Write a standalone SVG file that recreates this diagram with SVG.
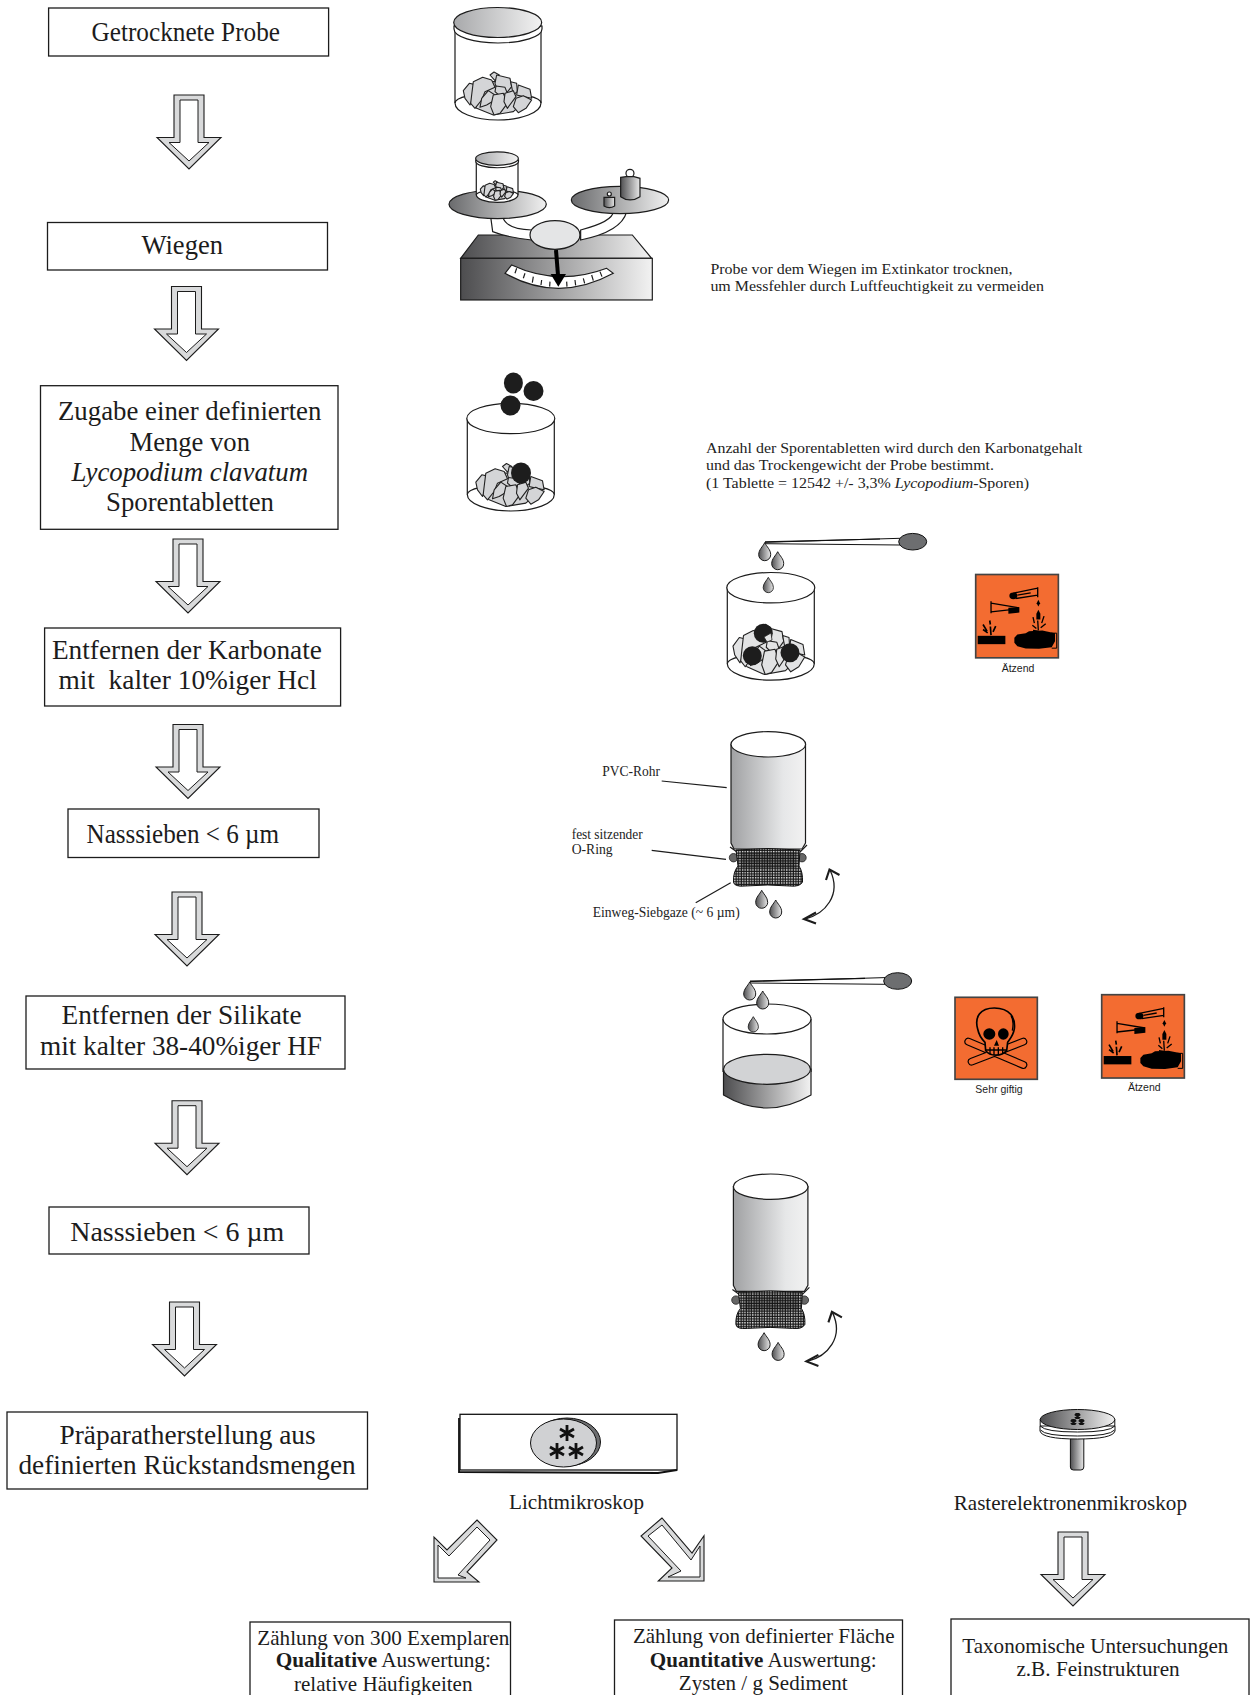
<svg xmlns="http://www.w3.org/2000/svg" width="1250" height="1695" viewBox="0 0 1250 1695">
<style>
text{font-family:"Liberation Serif","Times New Roman",serif;fill:#1c1c1c}
.box{fill:#fff;stroke:#1c1c1c;stroke-width:1.3}
.t{font-size:27.5px}
.t2{font-size:21.8px}
.n{font-size:15.400px;fill:#222}
.h{font-family:"Liberation Sans",Arial,sans-serif;font-size:10.500px}
.ln{fill:none;stroke:#1c1c1c;stroke-width:1.2;vector-effect:non-scaling-stroke}
.oa{fill:#d9dadb;stroke:#1c1c1c;stroke-width:1.1}
.ia{fill:#fff;stroke:#1c1c1c;stroke-width:1}
.rk polygon{stroke:#222;stroke-width:1.100;stroke-linejoin:round;vector-effect:non-scaling-stroke}
.s3{stroke:#1c1c1c;stroke-width:3.6}
.k{stroke:#000;stroke-width:4;fill:none}
</style>
<defs>
<linearGradient id="g1"><stop offset="0" stop-color="#4d4d4f"/><stop offset="1" stop-color="#f2f2f2"/></linearGradient>
<linearGradient id="g2"><stop offset="0" stop-color="#a8a9ab"/><stop offset="1" stop-color="#f2f2f2"/></linearGradient>
<linearGradient id="g6"><stop offset="0" stop-color="#6a6b6d"/><stop offset="1" stop-color="#f0f0f0"/></linearGradient>
<linearGradient id="g3"><stop offset="0" stop-color="#a0a1a3"/><stop offset=".7" stop-color="#e6e7e8"/><stop offset="1" stop-color="#f2f2f2"/></linearGradient>
<linearGradient id="g4"><stop offset="0" stop-color="#505052"/><stop offset="1" stop-color="#e8e8e8"/></linearGradient>
<pattern id="mesh" patternUnits="userSpaceOnUse" width="2.600" height="2.600"><rect width="2.600" height="2.600" fill="#141414"/><rect x=".9" y=".9" width="1.400" height="1.400" fill="#e8e8e8"/></pattern>
<g id="arrow"><polygon class="oa" points="-15,0 15,0 15,42.5 32,42.5 0,74 -32,42.5 -15,42.5"/><polygon class="ia" points="-9,5 9,5 9,47.5 20,47.5 0,66 -20,47.5 -9,47.5"/></g>
<g id="rocks" class="rk">
<polygon points="150,300 200,245 270,245 320,300 280,335 220,345 170,325"/>
<polygon points="130,272 148,250 165,254 160,290 150,315 135,295"/>
<polygon points="210,225 222,216 238,225 225,242"/>
<polygon points="160,245 188,232 215,240 225,262 195,275 185,300 165,325 152,310 155,285"/>
<polygon points="230,225 270,235 275,260 255,285 232,270 225,250"/>
<polygon points="272,245 290,250 292,275 280,285"/>
<polygon points="295,255 330,268 335,295 310,290 290,285"/>
<polygon points="228,258 255,262 262,280 240,288 225,275"/>
<polygon points="185,295 205,272 225,285 225,300 200,315 180,322"/>
<polygon points="220,285 250,280 262,310 240,340 222,345 212,320"/>
<polygon points="255,280 280,272 288,290 262,325 252,305"/>
<polygon points="288,295 310,287 335,300 318,325 295,338 280,320"/>
</g>
<g id="jar">
<path class="ln" style="fill:#fff" d="M455 26V103A43 17 0 0 0 541 103V26Z"/>
<path class="ln" d="M455 103A43 10 0 0 1 541 103"/>
<use href="#rocks" transform="translate(420 0) scale(.3333)" fill="#d4d5d7"/>
<path class="ln" style="fill:#fff" d="M454 26V29A44 14 0 0 0 542 29V26Z"/>
<ellipse cx="497.7" cy="22.5" rx="44" ry="15" fill="url(#g2)" stroke="#1c1c1c" stroke-width="1.2" vector-effect="non-scaling-stroke"/>
</g>
<g id="openjar">
<path class="ln" style="fill:#fff" d="M-43.5 15V91A43.5 16.5 0 0 0 43.500 91V15Z"/>
<path class="ln" d="M-43.5 91A43.5 10 0 0 1 43.500 91"/>
<ellipse cx="0" cy="15" rx="44" ry="15.200" fill="#fff" stroke="#1c1c1c" stroke-width="1.200"/>
</g>
<path id="drop" d="M0-9C2-5 6-2 6 3A6 6 0 0 1-6 3C-6-2-2-5 0-9Z" fill="url(#g4)" stroke="#1c1c1c" stroke-width="1"/>
<g id="pipette">
<polygon points="765,542.300 900,538.300 900,545 765,543.700" fill="#fff" stroke="#111" stroke-width="1"/>
<path d="M765 541.800L880 539" stroke="#111" stroke-width="1.200"/>
<ellipse cx="912.700" cy="541.700" rx="14" ry="8.300" fill="#6d6e70" stroke="#111" stroke-width="1"/>
<use href="#drop" x="764.700" y="551.700"/>
<use href="#drop" x="777.700" y="560.700"/>
<use href="#drop" transform="translate(768.300 585) scale(.85)"/>
</g>
<g id="tube">
<path d="M731 744.300V843L734 849H802L805.500 843V744.300Z" fill="url(#g3)" stroke="#1c1c1c" stroke-width="1.200"/>
<ellipse cx="768.300" cy="744.300" rx="37.300" ry="12.700" fill="#fff" stroke="#1c1c1c" stroke-width="1.200"/>
<path d="M730 847L737 852M807 845L800 852" class="ln"/>
<circle cx="733.500" cy="857.700" r="4.200" fill="#666" stroke="#222" stroke-width=".8"/>
<circle cx="802" cy="857.700" r="4.200" fill="#666" stroke="#222" stroke-width=".8"/>
<path d="M736 850Q768 847 800 850L799 866Q803 872 802.500 882Q800 887 790 886Q768 884 745 886Q734 887 733.500 882Q733 872 738 866Z" fill="url(#mesh)" stroke="#111" stroke-width="1"/>
<path d="M742 852H796V868H742Z" fill="#111" fill-opacity=".35"/>
<use href="#drop" x="761.700" y="899.300"/>
<use href="#drop" x="775.700" y="909"/>
<path d="M805 919C825 914 842 895 830 870" class="ln" style="stroke-width:1.300"/>
<path d="M816 912.500L804 919L816 923.500M826 880L829.500 869.500L839.500 875" class="ln" style="stroke-width:2.100"/>
</g>
<g id="corrosive">
<rect width="248" height="250" fill="#f36c31" stroke="#444" stroke-width="5"/>
<ellipse cx="113" cy="64" rx="12" ry="10"/>
<path class="k" d="M113 56L186 41M120 72L186 62M186 38V68M125 62L165 55"/>
<path class="k" d="M46 80V116M46 86L130 100M46 112L100 106"/>
<polygon points="98,100 131,98 131,114 98,118"/>
<polygon points="188,76 193,86 188,96 183,86"/>
<polygon points="188,106 194,118 194,135 182,135 182,118"/>
<path class="k" d="M186 138L188 168M172 128L176 146M205 125L198 146M170 152L182 162M210 148L195 160M172 168L186 170"/>
<path class="k" style="stroke-width:5" d="M42 138L44 150M44 156L46 182M22 150L34 170M60 155L52 172M22 165L36 175"/>
<rect x="6" y="184" width="83" height="25"/>
<polygon points="116,190 125,180 150,176 160,170 200,168 238,176 238,200 228,218 190,223 150,222 125,215 116,205"/>
<path class="k" style="stroke-width:3" d="M226 176H243V221H228"/>
</g>
</defs>

<g id="connectors">
<use href="#arrow" x="189" y="95"/>
<use href="#arrow" x="186.500" y="286.500"/>
<use href="#arrow" x="188" y="539"/>
<use href="#arrow" x="188" y="724.500"/>
<use href="#arrow" x="187" y="892"/>
<use href="#arrow" x="187" y="1100.700"/>
<use href="#arrow" x="184.500" y="1302"/>
<use href="#arrow" x="1073" y="1532"/>
<g>
<polygon class="oa" points="477,1520 497,1540 467,1572 479,1582 434,1582 434,1537 447,1550"/>
<polygon class="ia" points="477,1527 490,1540 458,1575 466,1578 438,1578 438,1545 449,1556"/>
</g>
<g>
<polygon class="oa" points="662,1518 641,1536 672,1568 658.300,1581 704,1581 704,1535.700 692,1553"/>
<polygon class="ia" points="662,1525 648,1536 681,1571 668,1577 700,1577 700,1546 691,1560"/>
</g>
<path class="ln" d="M661.700 781L726.700 787.700M651.700 850.300L726 859.300M695.700 902.700L730.700 882.700"/>
</g>

<g id="n1"><rect class="box" x="48.600" y="8" width="280" height="48"/><text class="t" x="91.500" y="41" textLength="188.500" lengthAdjust="spacingAndGlyphs">Getrocknete Probe</text></g>
<g id="n2"><rect class="box" x="47.500" y="222.500" width="280" height="47.500"/><text class="t" x="141.500" y="254.300" textLength="81.500" lengthAdjust="spacingAndGlyphs">Wiegen</text></g>
<g id="n3"><rect class="box" x="40.500" y="385.700" width="297.500" height="143.600"/>
<text class="t" x="58" y="419.600" textLength="263.400" lengthAdjust="spacingAndGlyphs">Zugabe einer definierten</text>
<text class="t" x="129.500" y="450.700" textLength="120.500" lengthAdjust="spacingAndGlyphs">Menge von</text>
<text class="t" x="71.400" y="481" textLength="236.600" lengthAdjust="spacingAndGlyphs" font-style="italic">Lycopodium clavatum</text>
<text class="t" x="106" y="510.700" textLength="168" lengthAdjust="spacingAndGlyphs">Sporentabletten</text></g>
<g id="n4"><rect class="box" x="44.600" y="628" width="296" height="78"/>
<text class="t" x="51.900" y="659" textLength="270" lengthAdjust="spacingAndGlyphs">Entfernen der Karbonate</text>
<text class="t" x="58.400" y="689.300" textLength="258.400" lengthAdjust="spacingAndGlyphs" xml:space="preserve">mit  kalter 10%iger Hcl</text></g>
<g id="n5"><rect class="box" x="68" y="809" width="251" height="48.500"/><text class="t" x="86.500" y="843" textLength="192.500" lengthAdjust="spacingAndGlyphs">Nasssieben &lt; 6 µm</text></g>
<g id="n6"><rect class="box" x="26" y="996" width="319" height="73"/>
<text class="t" x="61.600" y="1024" textLength="240" lengthAdjust="spacingAndGlyphs">Entfernen der Silikate</text>
<text class="t" x="40" y="1055.300" textLength="282" lengthAdjust="spacingAndGlyphs">mit kalter 38-40%iger HF</text></g>
<g id="n7"><rect class="box" x="49" y="1207" width="260" height="47"/><text class="t" x="70.300" y="1241.300" textLength="214" lengthAdjust="spacingAndGlyphs">Nasssieben &lt; 6 µm</text></g>
<g id="n8"><rect class="box" x="7" y="1412" width="360.500" height="77"/>
<text class="t" x="59.500" y="1444" textLength="256.200" lengthAdjust="spacingAndGlyphs">Präparatherstellung aus</text>
<text class="t" x="18.400" y="1474.300" textLength="337.300" lengthAdjust="spacingAndGlyphs">definierten Rückstandsmengen</text></g>
<g id="n9"><rect class="box" x="250" y="1622" width="260.500" height="80"/>
<text class="t2" x="257.300" y="1644.600" textLength="252" lengthAdjust="spacingAndGlyphs">Zählung von 300 Exemplaren</text>
<text class="t2" x="275.700" y="1667.400" textLength="215.200" lengthAdjust="spacingAndGlyphs"><tspan font-weight="bold">Qualitative</tspan> Auswertung:</text>
<text class="t2" x="294" y="1691" textLength="178.500" lengthAdjust="spacingAndGlyphs">relative Häufigkeiten</text></g>
<g id="n10"><rect class="box" x="614.500" y="1620" width="288" height="82"/>
<text class="t2" x="632.900" y="1643.300" textLength="261.600" lengthAdjust="spacingAndGlyphs">Zählung von definierter Fläche</text>
<text class="t2" x="649.800" y="1666.700" textLength="226.800" lengthAdjust="spacingAndGlyphs"><tspan font-weight="bold">Quantitative</tspan> Auswertung:</text>
<text class="t2" x="678.800" y="1690" textLength="168.800" lengthAdjust="spacingAndGlyphs">Zysten / g Sediment</text></g>
<g id="n11"><rect class="box" x="951" y="1619" width="298" height="83"/>
<text class="t2" x="962.300" y="1653.300" textLength="266.100" lengthAdjust="spacingAndGlyphs">Taxonomische Untersuchungen</text>
<text class="t2" x="1016.400" y="1676" textLength="163.300" lengthAdjust="spacingAndGlyphs">z.B. Feinstrukturen</text></g>

<g id="jar1"><use href="#jar"/></g>

<g id="balance" transform="translate(420 0) scale(.3333)">
<polygon points="175,705 637,705 695,775 122,775" fill="url(#g1)" class="s3"/>
<rect x="122" y="775" width="575" height="125" fill="url(#g1)" class="s3"/>
<path d="M255 820L275 795Q415 860 560 805L580 820Q415 910 255 820Z" fill="#fff" class="s3"/>
<path class="s3" fill="none" d="M290 805L285 820M315 820L310 835M340 830L337 848M365 840L363 855M390 845L389 860M440 845L441 860M465 840L467 856M490 835L494 850M515 825L520 842M540 815L546 830"/>
<path d="M212 650L218 695Q260 712 335 720L335 690Q258 688 248 650Z" fill="#fff" class="s3"/>
<path d="M580 635Q578 665 482 690L482 720Q605 695 620 635Z" fill="#fff" class="s3"/>
<ellipse cx="233" cy="613" rx="146" ry="43" fill="url(#g6)" class="s3"/>
<ellipse cx="600" cy="600" rx="146" ry="41" fill="url(#g6)" class="s3"/>
<circle cx="630" cy="520" r="12" fill="#fff" class="s3"/>
<path d="M602 532L618 530L642 530L660 535V590Q630 610 602 590Z" fill="url(#g4)" class="s3"/>
<circle cx="568" cy="582" r="6" fill="#fff" class="s3"/>
<path d="M552 592H584V618Q568 628 552 618Z" fill="url(#g4)" class="s3"/>
<ellipse cx="405" cy="705" rx="75" ry="43" fill="#e4e5e6" class="s3"/>
<path d="M408 750L414 825" stroke="#000" stroke-width="12"/>
<polygon points="392,822 438,822 415,860" fill="#000"/>
</g>
<g id="jar2"><use href="#jar" transform="translate(497 151.700) scale(.485 .45) translate(-497.700 -7.300)"/></g>

<g id="jar3">
<use href="#openjar" x="510.800" y="403.500"/>
<use href="#rocks" transform="translate(432.500 391.500) scale(.3333)" fill="#d4d5d7"/>
<ellipse cx="513.400" cy="383" rx="9.500" ry="10.500" fill="#1d1d1d"/>
<ellipse cx="533.500" cy="391" rx="10" ry="10" fill="#1d1d1d"/>
<ellipse cx="510.500" cy="405.500" rx="10" ry="10" fill="#1d1d1d"/>
<ellipse cx="521" cy="473" rx="10" ry="10.500" fill="#1d1d1d"/>
</g>

<g id="jar4">
<use href="#openjar" x="770.800" y="572.700"/>
<use href="#rocks" transform="translate(687.500 540) scale(.35 .39)" fill="#e2e3e4"/>
<circle cx="763.300" cy="633.300" r="9.500" fill="#1d1d1d"/>
<polygon points="764,637 771,633 772,640 767,642" fill="#e2e3e4" stroke="#222" stroke-width=".8"/>
<circle cx="752.300" cy="655.700" r="9.500" fill="#1d1d1d"/>
<circle cx="790" cy="652.700" r="9.500" fill="#1d1d1d"/>
<use href="#pipette"/>
</g>

<g id="sign1">
<use href="#corrosive" transform="translate(975.700 574.500) scale(.3333)"/>
<text class="h" x="1018" y="671.700" text-anchor="middle">Ätzend</text>
</g>

<g id="tube1"><use href="#tube"/></g>
<g id="tube2"><use href="#tube" x="2.400" y="442.400"/></g>

<g id="beaker">
<path class="ln" d="M723 1019V1072M811 1019V1072"/>
<ellipse cx="767" cy="1019" rx="44" ry="15" fill="#fff" stroke="#1c1c1c" stroke-width="1.200"/>
<path d="M723.500 1069V1095Q745 1108 767 1108Q789 1108 811 1095V1069Z" fill="url(#g1)" stroke="#1c1c1c" stroke-width="1.200"/>
<ellipse cx="767" cy="1069.300" rx="43.500" ry="15" fill="#d2d3d5" stroke="#1c1c1c" stroke-width="1.200"/>
<use href="#pipette" transform="translate(-15 439.300)"/>
</g>

<g id="sign2">
<g transform="translate(955 997.300) scale(.3333)">
<rect width="247" height="246" fill="#f36c31" stroke="#444" stroke-width="5"/>
<path d="M40 133L205 203M205 133L50 193" stroke="#000" stroke-width="24" stroke-linecap="round"/>
<path d="M40 133L205 203M205 133L50 193" stroke="#f36c31" stroke-width="17" stroke-linecap="round"/>
<path d="M68 95C58 60 75 32 118 32C165 32 182 62 178 95C175 115 165 125 158 135L155 160C140 178 105 178 92 160L90 135C80 125 72 115 68 95Z" fill="#f36c31" stroke="#000" stroke-width="5"/>
<ellipse cx="103" cy="110" rx="18" ry="17"/>
<ellipse cx="145" cy="110" rx="16" ry="17"/>
<polygon points="125,128 132,145 117,145"/>
<path class="k" d="M93 158H155M105 150V170M117 150V174M130 150V174M143 150V170M168 55Q178 70 172 100"/>
</g>
<text class="h" x="999" y="1092.700" text-anchor="middle">Sehr giftig</text>
</g>
<g id="sign3">
<use href="#corrosive" transform="translate(1101.700 994.700) scale(.3333)"/>
<text class="h" x="1144.300" y="1091" text-anchor="middle">Ätzend</text>
</g>

<g id="slide">
<rect x="460" y="1414.300" width="217" height="55.700" fill="#fff" stroke="#111" stroke-width="1.300"/>
<path d="M459 1418V1472L658 1473L677 1470" fill="none" stroke="#111" stroke-width="1.800"/>
<ellipse cx="567" cy="1442" rx="33.500" ry="24" fill="#6d6e70" stroke="#111"/>
<ellipse cx="563.500" cy="1443" rx="33" ry="24" fill="#d0d1d3" stroke="#111"/>
<path stroke="#111" stroke-width="2.800" d="M567 1425V1441M560 1429L574 1437M574 1429L560 1437M557 1443V1459M550 1447L564 1455M564 1447L550 1455M576 1443V1459M569 1447L583 1455M583 1447L569 1455"/>
</g>
<text id="lm" class="t2" x="509" y="1509.300" textLength="135" lengthAdjust="spacingAndGlyphs">Lichtmikroskop</text>

<g id="stub">
<rect x="1070.400" y="1436" width="13.400" height="34" rx="3" fill="url(#g4)" stroke="#111"/>
<path d="M1040 1426V1431Q1042 1439 1077.500 1439Q1113 1439 1115 1431V1426Z" fill="#fff" stroke="#111"/>
<path d="M1040.500 1430Q1045 1436 1077.500 1436Q1110 1436 1114.500 1430" fill="none" stroke="#111"/>
<ellipse cx="1077.500" cy="1419.500" rx="37.300" ry="10" fill="url(#g1)" stroke="#111"/>
<path d="M1040.200 1419.500V1426Q1045 1432 1077.500 1432Q1110 1432 1114.800 1426V1419.500" fill="none" stroke="#111"/>
<path stroke="#111" stroke-width="2.400" d="M1077.500 1413V1419M1075 1414L1080 1418M1080 1414L1075 1418M1073.500 1419V1425M1071 1420L1076 1424M1076 1420L1071 1424M1081.500 1419V1425M1079 1420L1084 1424M1084 1420L1079 1424"/>
</g>
<text id="rem" class="t2" x="953.700" y="1509.500" textLength="233.300" lengthAdjust="spacingAndGlyphs">Rasterelektronenmikroskop</text>

<g id="notes">
<text class="n" x="710.400" y="273.600" textLength="302" lengthAdjust="spacingAndGlyphs">Probe vor dem Wiegen im Extinkator trocknen,</text>
<text class="n" x="710.400" y="290.900" textLength="333.500" lengthAdjust="spacingAndGlyphs">um Messfehler durch Luftfeuchtigkeit zu vermeiden</text>
<text class="n" x="706" y="453" textLength="376.500" lengthAdjust="spacingAndGlyphs">Anzahl der Sporentabletten wird durch den Karbonatgehalt</text>
<text class="n" x="706" y="470.400" textLength="288" lengthAdjust="spacingAndGlyphs">und das Trockengewicht der Probe bestimmt.</text>
<text class="n" x="706" y="487.700" textLength="323" lengthAdjust="spacingAndGlyphs">(1 Tablette = 12542 +/- 3,3% <tspan font-style="italic">Lycopodium</tspan>-Sporen)</text>
<text class="n" style="font-size:14px" x="602.300" y="775.700" textLength="57.700" lengthAdjust="spacingAndGlyphs">PVC-Rohr</text>
<text class="n" style="font-size:14px" x="571.700" y="839.300" textLength="71" lengthAdjust="spacingAndGlyphs">fest sitzender</text>
<text class="n" style="font-size:14px" x="571.700" y="854.300" textLength="41" lengthAdjust="spacingAndGlyphs">O-Ring</text>
<text class="n" style="font-size:14px" x="592.700" y="917.300" textLength="147" lengthAdjust="spacingAndGlyphs">Einweg-Siebgaze (~ 6 µm)</text>
</g>
</svg>
